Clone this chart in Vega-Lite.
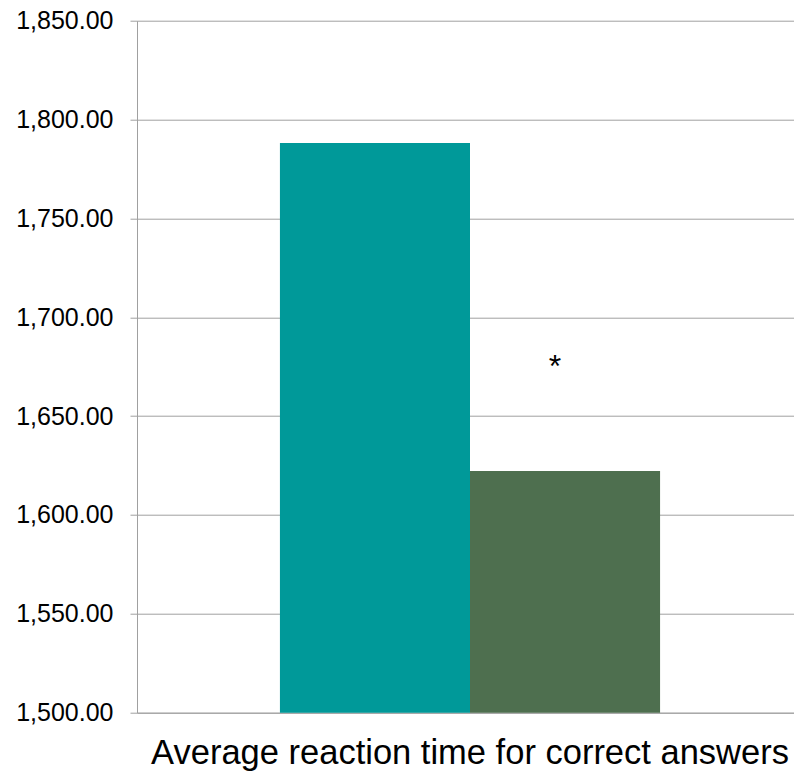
{
  "$schema": "https://vega.github.io/schema/vega-lite/v6.json",
  "width": 666,
  "height": 692,
  "autosize": {"type": "none"},
  "padding": {"left": 137, "top": 20.7, "right": 0, "bottom": 59.3},
  "config": {"view": {"stroke": null}, "font": "Liberation Sans"},
  "datasets": {
    "bars": [
      {"category": "Average reaction time for correct answers", "group": "Group 1", "value": 1788.1},
      {"category": "Average reaction time for correct answers", "group": "Group 2", "value": 1622.2}
    ],
    "marks": [
      {"category": "Average reaction time for correct answers", "group": "Group 2", "label": "*", "value": 1670}
    ]
  },
  "encoding": {
    "x": {
      "field": "category",
      "type": "nominal",
      "scale": {"paddingInner": 0, "paddingOuter": 0.376},
      "axis": {
        "title": null,
        "labelAngle": 0,
        "labelFontSize": 34.5,
        "labelColor": "black",
        "ticks": false,
        "tickSize": 0,
        "labelPadding": 51,
        "labelBaseline": "alphabetic",
        "labelLimit": 2000,
        "domainColor": "#a0a0a0",
        "grid": false
      }
    },
    "xOffset": {
      "field": "group",
      "type": "nominal",
      "scale": {"paddingInner": 0, "paddingOuter": 0}
    }
  },
  "layer": [
    {
      "data": {"name": "bars"},
      "mark": {"type": "bar", "clip": true},
      "encoding": {
        "y": {
          "field": "value",
          "type": "quantitative",
          "scale": {"domain": [1500, 1850], "nice": false, "zero": false},
          "axis": {
            "title": null,
            "values": [1500, 1550, 1600, 1650, 1700, 1750, 1800, 1850],
            "format": ",.2f",
            "labelFontSize": 25,
            "labelColor": "black",
            "labelPadding": 17,
            "ticks": true,
            "tickSize": 7,
            "tickColor": "#a0a0a0",
            "domainColor": "#a0a0a0",
            "gridColor": "#a0a0a0",
            "grid": true
          }
        },
        "color": {
          "field": "group",
          "type": "nominal",
          "scale": {"domain": ["Group 1", "Group 2"], "range": ["#009999", "#4e6f4f"]},
          "legend": null
        }
      }
    },
    {
      "data": {"name": "marks"},
      "mark": {"type": "text", "fontSize": 32, "baseline": "alphabetic", "align": "center", "dx": -10, "color": "black"},
      "encoding": {
        "y": {"field": "value", "type": "quantitative"},
        "text": {"field": "label"}
      }
    }
  ]
}
